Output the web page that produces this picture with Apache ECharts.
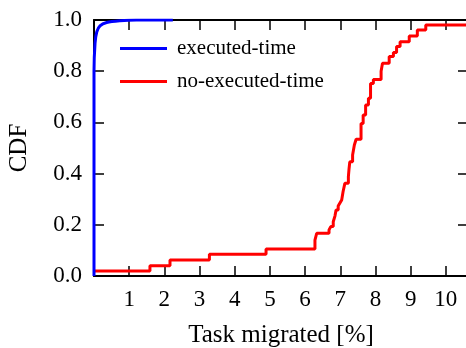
<!DOCTYPE html>
<html><head><meta charset="utf-8">
<script src="https://cdn.jsdelivr.net/npm/echarts@6/dist/echarts.min.js"></script>
<style>html,body{margin:0;padding:0;background:#fff}#c{width:466px;height:348px}</style>
</head><body><div id="c"></div>
<script>
// executed-time CDF: [x (% tasks migrated), CDF]
const executedTime = [[0,0],[0,0.8],[0.03,0.91],[0.08,0.954],[0.17,0.977],[0.36,0.99],[0.74,0.997],[1.2,1.0],[2.24,1.0]];
// no-executed-time CDF (step)
const noExecutedTime = [[0,0.02],[1.59,0.04],[2.16,0.0625],[3.28,0.085],[4.89,0.105],[6.28,0.14],[6.33,0.167],[6.68,0.18],[6.73,0.193],[6.80,0.212],[6.85,0.235],[6.88,0.258],[6.94,0.273],[6.99,0.285],[7.04,0.297],[7.08,0.33],[7.13,0.362],[7.23,0.388],[7.25,0.42],[7.27,0.446],[7.35,0.473],[7.40,0.512],[7.45,0.534],[7.59,0.596],[7.65,0.629],[7.72,0.668],[7.80,0.694],[7.86,0.752],[7.94,0.768],[8.16,0.80],[8.20,0.831],[8.39,0.857],[8.51,0.873],[8.60,0.896],[8.70,0.915],[8.96,0.9375],[9.19,0.961],[9.43,0.98],[10.63,0.98]];
const xTicks = [1,2,3,4,5,6,7,8,9,10];
const yTicks = [0,0.2,0.4,0.6,0.8,1.0];
const xMax = 10.63;

const font = 'Liberation Serif';
const axisCommon = {
  axisLine:{show:true,onZero:false,lineStyle:{color:'#000',width:2}},
  axisTick:{show:true,inside:true,length:10,lineStyle:{color:'#000',width:1.5}},
  splitLine:{show:false}
};
const chart = echarts.init(document.getElementById('c'));
chart.setOption({
  animation:false,
  grid:{left:94,top:20,right:-2,bottom:72,containLabel:false,outerBoundsMode:'none'},
  legend:{
    orient:'vertical',left:120,top:38,padding:0,itemGap:12,itemWidth:47,itemHeight:3,icon:'rect',
    textStyle:{fontFamily:font,fontSize:21,color:'#000',padding:[0,0,0,5]},
    data:['executed-time','no-executed-time']
  },
  xAxis:[
    Object.assign({type:'value',min:0,max:xMax,interval:1,position:'bottom',
      name:'Task migrated [%]',nameLocation:'middle',nameGap:47,
      nameTextStyle:{fontFamily:font,fontSize:25,color:'#000'},
      axisLabel:{margin:12,fontFamily:font,fontSize:23,color:'#000',
        formatter:v=>xTicks.includes(v)?String(v):''}},axisCommon),
    Object.assign({type:'value',min:0,max:xMax,interval:1,position:'top',axisLabel:{show:false}},axisCommon)
  ],
  yAxis:[
    Object.assign({type:'value',min:0,max:1,interval:0.2,position:'left',
      name:'CDF',nameLocation:'middle',nameGap:62,
      nameTextStyle:{fontFamily:font,fontSize:25,color:'#000'},
      axisLabel:{margin:12,fontFamily:font,fontSize:23,color:'#000',
        formatter:v=>yTicks.some(t=>Math.abs(t-v)<1e-9)?v.toFixed(1):''}},axisCommon),
    Object.assign({type:'value',min:0,max:1,interval:0.2,position:'right',axisLabel:{show:false}},axisCommon)
  ],
  series:[
    {name:'executed-time',type:'line',data:executedTime,showSymbol:false,smooth:0.3,
      color:'#0000ff',lineStyle:{color:'#0000ff',width:3},z:5},
    {name:'no-executed-time',type:'line',step:'end',data:noExecutedTime,showSymbol:false,
      color:'#ff0000',lineStyle:{color:'#ff0000',width:3},z:4}
  ]
});
</script></body></html>
